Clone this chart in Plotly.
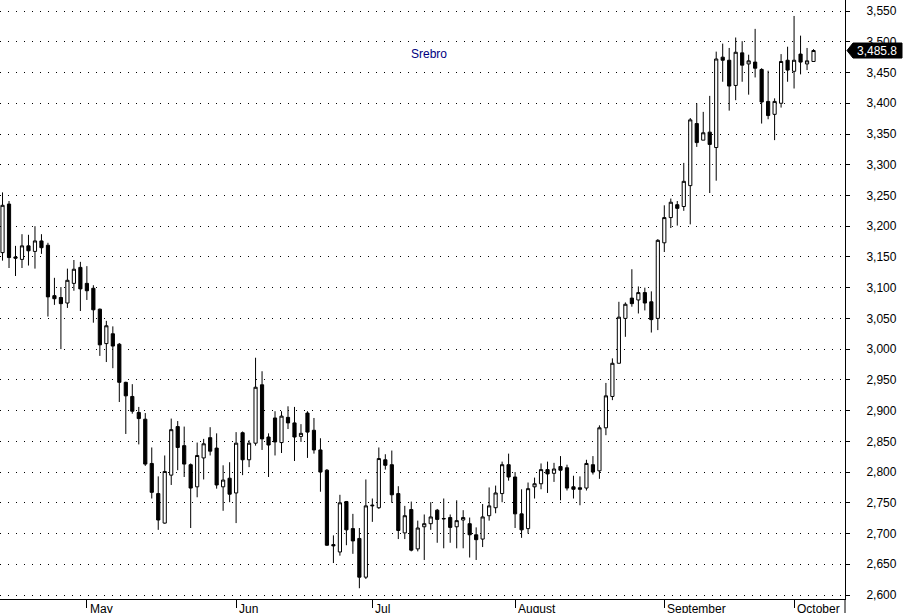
import plotly.graph_objects as go

# Daily OHLC, silver (Srebro), 12 Apr 2012 .. 4 Oct 2012 (weekdays)
opens = [3157, 3236, 3150, 3146, 3168, 3159, 3176, 3169, 3087, 3084,
         3075, 3107, 3133, 3107, 3099, 3065, 3009, 3025, 3008, 2946,
         2923, 2897, 2886, 2814, 2765, 2717, 2795, 2874, 2843, 2812,
         2776, 2823, 2856, 2839, 2776, 2790, 2766, 2864, 2820, 2847,
         2942, 2857, 2888, 2848, 2889, 2880, 2858, 2896, 2868, 2836,
         2803, 2682, 2670, 2752, 2708, 2692, 2629, 2745, 2742, 2820,
         2812, 2765, 2701, 2739, 2675, 2711, 2716, 2738, 2724.5, 2726,
         2711, 2722, 2716, 2698, 2691, 2729, 2742, 2765, 2812, 2792,
         2732, 2708, 2776, 2781, 2804, 2798, 2809, 2807, 2776, 2774.5,
         2774, 2812, 2802, 2872, 2923, 2977, 3050, 3083, 3080, 3092,
         3077, 3050, 3173, 3214, 3235, 3232, 3266, 3367, 3340, 3353,
         3328, 3475, 3470, 3429, 3482, 3464, 3467, 3455, 3403, 3382,
         3400, 3470, 3452, 3480, 3464, 3468]
highs = [3255, 3241, 3168, 3187, 3186, 3200, 3187, 3173, 3116, 3101,
         3131, 3145, 3142, 3135, 3104, 3066, 3046, 3037, 3010, 2947,
         2943, 2906, 2896, 2840, 2793, 2827, 2887, 2883, 2874, 2814,
         2848, 2854, 2873, 2863, 2811, 2816, 2865, 2866, 2852, 2986,
         2964, 2863, 2899, 2899, 2907, 2906, 2878, 2899, 2888, 2855,
         2805, 2697, 2763, 2753, 2732, 2709, 2788, 2757, 2840, 2829,
         2835, 2777, 2745, 2752, 2721, 2731, 2751, 2740, 2757, 2731,
         2754, 2738, 2726, 2710, 2748, 2775, 2778, 2817, 2830, 2800,
         2772, 2783, 2791, 2814, 2817, 2815, 2826, 2812, 2794, 2793,
         2820, 2826, 2876, 2945, 2985, 3077, 3076, 3130, 3102, 3100,
         3094, 3179, 3234, 3245, 3241, 3303, 3376, 3400, 3386, 3412,
         3484, 3497, 3490, 3507, 3501, 3479, 3521, 3457, 3453, 3408,
         3480, 3492, 3542, 3510, 3490, 3488]
lows = [3144, 3132, 3119, 3132, 3136, 3131, 3155, 3053, 3072, 3000,
        3067, 3095, 3062, 3080, 3043, 2989, 2979, 2969, 2914, 2862,
        2895, 2845, 2810, 2757, 2706, 2716, 2779, 2803, 2792, 2709,
        2759, 2788, 2827, 2773, 2737, 2751, 2717, 2795, 2808, 2843,
        2836, 2792, 2827, 2831, 2870, 2818, 2849, 2823, 2830, 2768,
        2680, 2652, 2664, 2681, 2667, 2611, 2626, 2719, 2740, 2804,
        2750, 2691, 2691, 2671, 2671, 2657, 2706, 2685, 2676, 2685,
        2676, 2676, 2661, 2657, 2678, 2721, 2733, 2751, 2786, 2709,
        2693, 2700, 2757, 2772, 2766, 2784, 2754, 2770, 2757, 2746,
        2770, 2796, 2789, 2860, 2917, 2977, 3020, 3069, 3058, 3063,
        3027, 3031, 3158, 3197, 3201, 3225, 3203, 3329, 3340, 3254,
        3274, 3435, 3388, 3405, 3435, 3414, 3442, 3367, 3374, 3340,
        3393, 3435, 3424, 3447, 3454, 3468]
closes = [3234, 3149, 3148, 3168, 3160, 3176, 3165, 3085, 3082, 3074,
          3112, 3130, 3098, 3095, 3064, 3007, 3038, 3005, 2946, 2924,
          2899, 2887, 2813, 2767, 2722, 2801, 2869, 2840, 2813, 2774,
          2827, 2846, 2834, 2779, 2787, 2764, 2847, 2820, 2847, 2938,
          2854, 2844, 2849, 2891, 2880, 2857, 2863, 2865, 2836, 2800,
          2681, 2680, 2750, 2706, 2688, 2629, 2745, 2746, 2822, 2811,
          2763, 2705, 2729, 2673, 2709, 2716, 2727, 2723, 2724, 2710,
          2721, 2726, 2698, 2690, 2727, 2745, 2766, 2812, 2792, 2732,
          2706, 2773, 2781, 2804, 2797, 2805, 2803, 2774, 2772, 2772,
          2814, 2800, 2872, 2924, 2977, 3052, 3073, 3074, 3092, 3075,
          3048, 3177, 3214, 3239, 3229, 3273, 3373, 3336, 3352, 3333,
          3472, 3470, 3428, 3483, 3462, 3469, 3457, 3402, 3380, 3403,
          3468, 3454, 3470, 3467, 3469, 3485.8]

day_index = list(range(len(closes)))

# first trading day of each month (index into the series) and its label
month_idx = [13, 36, 57, 79, 102, 122]
month_names = ["May", "Jun", "Jul", "August", "September", "October"]

y_ticks = list(range(2600, 3551, 50))
last_price = closes[-1]
title_text = "Srebro"

FONT = "Liberation Sans, Arial, sans-serif"

fig = go.Figure()
fig.add_trace(go.Candlestick(
    x=day_index, open=opens, high=highs, low=lows, close=closes,
    increasing=dict(line=dict(color="black", width=1), fillcolor="white"),
    decreasing=dict(line=dict(color="black", width=1), fillcolor="black"),
    whiskerwidth=0,
    hoverinfo="skip",
    showlegend=False,
))

fig.update_layout(
    width=907, height=613,
    margin=dict(l=0, r=62, t=0, b=14),
    paper_bgcolor="white", plot_bgcolor="white",
    font=dict(family=FONT, size=12, color="black"),
    showlegend=False,
    xaxis=dict(
        type="linear", range=[-0.39, 129.85],
        rangeslider=dict(visible=False),
        showgrid=False, zeroline=False,
        showline=True, linecolor="black", linewidth=1,
        ticks="outside", ticklen=8, tickwidth=1, tickcolor="black",
        tickvals=month_idx, showticklabels=False,
        fixedrange=True,
    ),
    yaxis=dict(
        side="right", range=[2593.5, 3568],
        tickvals=y_ticks, tickformat=",d",
        showgrid=True, gridcolor="black", gridwidth=1, griddash="1px,7px",
        zeroline=False,
        showline=True, linecolor="black", linewidth=1,
        ticks="outside", ticklen=4, tickwidth=1, tickcolor="black",
        ticklabelstandoff=14,
        tickfont=dict(family=FONT, size=12, color="black"),
        fixedrange=True,
    ),
)

# month labels to the right of each tick
for xi, name in zip(month_idx, month_names):
    fig.add_annotation(
        x=xi, y=0, xref="x", yref="paper",
        text=name, showarrow=False,
        xanchor="left", yanchor="top", xshift=1, yshift=-1,
        font=dict(family=FONT, size=12, color="black"),
    )

# extend right axis line below the x axis
fig.add_shape(type="line", xref="paper", yref="paper",
              x0=1, x1=1, y0=0, y1=-0.03,
              line=dict(color="black", width=1))

# chart title
fig.add_annotation(
    x=0.508, y=0.91, xref="paper", yref="paper",
    xanchor="center", yanchor="middle",
    text=title_text, showarrow=False,
    font=dict(family=FONT, size=12, color="#000080"),
)

# last price marker (black flag with left-pointing arrow)
fig.add_shape(type="path", xref="paper", yref="y",
              xsizemode="pixel", ysizemode="pixel",
              xanchor=1, yanchor=last_price,
              path="M 2 0 L 8 7.5 L 57 7.5 L 57 -7.5 L 8 -7.5 Z",
              fillcolor="black", line=dict(color="black", width=1))
fig.add_annotation(
    x=1, y=last_price, xref="paper", yref="y",
    text=f"{last_price:,.1f}", showarrow=False,
    xanchor="center", xshift=32,
    font=dict(family=FONT, size=12, color="white"),
)

fig.write_html(
    "out.html",
    config={"displayModeBar": False, "staticPlot": True},
    post_script="document.body.style.margin='0';document.body.style.overflow='hidden';",
)
